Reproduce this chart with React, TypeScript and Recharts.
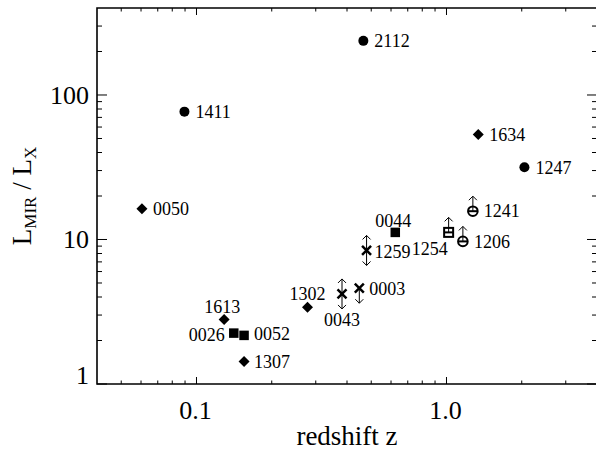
import { ScatterChart, Scatter, XAxis, YAxis, ReferenceArea } from 'recharts';

// MIR-to-X-ray luminosity ratio against redshift, one entry per source
const SOURCES = ['1411', '0050', '2112', '1634', '1247', '1241', '1206', '1254', '0044', '1259', '0003', '0043', '1302', '1613', '0026', '0052', '1307'];
const REDSHIFT = [0.0895, 0.0605, 0.465, 1.34, 2.05, 1.275, 1.163, 1.02, 0.624, 0.479, 0.448, 0.382, 0.278, 0.129, 0.141, 0.155, 0.155];
const MIR_X_RATIO = [76.7, 16.3, 237, 53.2, 31.6, 15.7, 9.7, 11.2, 11.2, 8.4, 4.6, 4.2, 3.4, 2.8, 2.25, 2.17, 1.43];
const MARKERS = ['dot', 'diamond', 'dot', 'diamond', 'dot', 'ring', 'ring', 'box', 'square', 'cross', 'cross', 'cross', 'diamond', 'diamond', 'square', 'square', 'diamond'];
const LIMITS = ['', '', '', '', '', 'lower', 'lower', 'lower', '', 'range', 'upper', 'range', '', '', '', '', ''];

const X_MAJOR = [0.1, 1];
const X_TICK_LABELS = ['0.1', '1.0'];
const X_MINOR = [0.05, 0.06, 0.07, 0.08, 0.09, 0.2, 0.3, 0.4, 0.5, 0.6, 0.7, 0.8, 0.9, 2, 3];
const Y_MAJOR = [1, 10, 100];
const Y_TICK_LABELS = ['1', '10', '100'];
const Y_MINOR = [2, 3, 4, 5, 6, 7, 8, 9, 20, 30, 40, 50, 60, 70, 80, 90, 200, 300];

const X_DOMAIN: [number, number] = [0.04, 4];
const Y_DOMAIN: [number, number] = [1, 400];

const data = SOURCES.map((name, i) => ({
  name,
  z: REDSHIFT[i],
  ratio: MIR_X_RATIO[i],
  marker: MARKERS[i],
  limit: LIMITS[i],
}));

// label offsets from the marker centre: [dx, dy, anchor]
const LABEL_AT: Record<string, [number, number, 'start' | 'middle' | 'end']> = {
  '1254': [-1, 16, 'end'],
  '0044': [-2, -12, 'middle'],
  '1259': [8, 1, 'start'],
  '0043': [0, 26, 'middle'],
  '1302': [0, -14, 'middle'],
  '1613': [-2, -13, 'middle'],
  '0026': [-9, 2, 'end'],
  '0052': [10, -2, 'start'],
  '1307': [10, 0, 'start'],
  '0003': [10, 0, 'start'],
};

const W = 600;
const H = 453;
const MARGIN = { top: 8, right: 3, bottom: 0, left: 0 };
const Y_AXIS_W = 97;
const X_AXIS_H = 69;
const PLOT = {
  left: MARGIN.left + Y_AXIS_W,
  right: W - MARGIN.right,
  top: MARGIN.top,
  bottom: H - MARGIN.bottom - X_AXIS_H,
};

const FONT = "'Liberation Serif', 'Times New Roman', Times, serif";
const INK = '#000';

function Arrow({ cx, cy, dir }: { cx: number; cy: number; dir: number }) {
  const tip = cy + dir * 15;
  return (
    <g stroke={INK} strokeWidth={1} fill="none">
      <line x1={cx} y1={cy} x2={cx} y2={tip} />
      <polyline points={`${cx - 4},${tip - dir * 4} ${cx},${tip} ${cx + 4},${tip - dir * 4}`} />
    </g>
  );
}

function SourceMark(props: any) {
  const { cx, cy, payload } = props;
  if (cx == null || cy == null) return null;
  const { marker, limit, name } = payload;
  let body = null;
  if (marker === 'dot') {
    body = <circle cx={cx} cy={cy} r={5} fill={INK} />;
  } else if (marker === 'diamond') {
    const d = 5.5;
    body = <polygon points={`${cx},${cy - d} ${cx + d},${cy} ${cx},${cy + d} ${cx - d},${cy}`} fill={INK} />;
  } else if (marker === 'square') {
    body = <rect x={cx - 4.75} y={cy - 4.75} width={9.5} height={9.5} fill={INK} />;
  } else if (marker === 'box') {
    body = (
      <g stroke={INK} strokeWidth={2} fill="#fff">
        <rect x={cx - 4.5} y={cy - 4.5} width={9} height={9} />
        <line x1={cx - 4.5} y1={cy} x2={cx + 4.5} y2={cy} />
      </g>
    );
  } else if (marker === 'ring') {
    body = (
      <g stroke={INK} strokeWidth={2} fill="#fff">
        <circle cx={cx} cy={cy} r={4.8} />
        <line x1={cx - 4.8} y1={cy} x2={cx + 4.8} y2={cy} />
      </g>
    );
  } else if (marker === 'cross') {
    const d = 4.5;
    body = (
      <g stroke={INK} strokeWidth={2.5}>
        <line x1={cx - d} y1={cy - d} x2={cx + d} y2={cy + d} />
        <line x1={cx - d} y1={cy + d} x2={cx + d} y2={cy - d} />
      </g>
    );
  }
  const [dx, dy, anchor] = LABEL_AT[name] ?? [11, 0, 'start'];
  return (
    <g>
      {body}
      {(limit === 'lower' || limit === 'range') && <Arrow cx={cx} cy={cy} dir={-1} />}
      {(limit === 'upper' || limit === 'range') && <Arrow cx={cx} cy={cy} dir={1} />}
      <text x={cx + dx} y={cy + dy} dy="0.35em" textAnchor={anchor} style={{ fontFamily: FONT }} fontSize={18} fill={INK}>
        {name}
      </text>
    </g>
  );
}

// ticks point inwards and are repeated on the opposite side of the frame
function XTick(props: any) {
  const { x, payload } = props;
  const idx = X_MAJOR.indexOf(payload.value);
  const len = idx >= 0 ? 7 : 3.5;
  return (
    <g>
      <line x1={x} y1={PLOT.bottom} x2={x} y2={PLOT.bottom - len} stroke={INK} strokeWidth={1} />
      <line x1={x} y1={PLOT.top} x2={x} y2={PLOT.top + len} stroke={INK} strokeWidth={1} />
      {idx >= 0 && (
        <text x={x - 1} y={PLOT.bottom + 35} textAnchor="middle" style={{ fontFamily: FONT }} fontSize={26} fill={INK}>
          {X_TICK_LABELS[idx]}
        </text>
      )}
    </g>
  );
}

function YTick(props: any) {
  const { y, payload } = props;
  const idx = Y_MAJOR.indexOf(payload.value);
  const len = idx >= 0 ? 10 : 5;
  const base = idx === 0 ? y : y + 9;
  return (
    <g>
      <line x1={PLOT.left} y1={y} x2={PLOT.left + len} y2={y} stroke={INK} strokeWidth={1} />
      <line x1={PLOT.right} y1={y} x2={PLOT.right - len} y2={y} stroke={INK} strokeWidth={1} />
      {idx >= 0 && (
        <text x={PLOT.left - 8} y={base} textAnchor="end" style={{ fontFamily: FONT }} fontSize={26} fill={INK}>
          {Y_TICK_LABELS[idx]}
        </text>
      )}
    </g>
  );
}

function XTitle(props: any) {
  const { viewBox } = props;
  return (
    <text x={viewBox.x + viewBox.width / 2} y={PLOT.bottom + 61} textAnchor="middle" style={{ fontFamily: FONT }} fontSize={27} fill={INK}>
      redshift z
    </text>
  );
}

function YTitle(props: any) {
  const { viewBox } = props;
  const cy = viewBox.y + viewBox.height / 2;
  const cx = 31;
  return (
    <text x={cx} y={cy} transform={`rotate(-90, ${cx}, ${cy})`} textAnchor="middle" style={{ fontFamily: FONT }} fontSize={27} fill={INK}>
      L<tspan fontSize={17} dy={5}>MIR</tspan>
      <tspan dy={-5}> / L</tspan>
      <tspan fontSize={17} dy={5}>X</tspan>
    </text>
  );
}

export default function App() {
  return (
    <div style={{ position: 'absolute', left: 0, top: 0, width: 596, height: 453, overflow: 'hidden', background: '#fff', fontFamily: FONT }}>
      <ScatterChart width={W} height={H} margin={MARGIN}>
        <XAxis
          type="number"
          dataKey="z"
          scale="log"
          domain={X_DOMAIN}
          allowDataOverflow
          ticks={[...X_MAJOR, ...X_MINOR]}
          interval={0}
          tick={<XTick />}
          tickLine={false}
          tickSize={0}
          tickMargin={0}
          axisLine={false}
          height={X_AXIS_H}
          label={<XTitle />}
        />
        <YAxis
          type="number"
          dataKey="ratio"
          scale="log"
          domain={Y_DOMAIN}
          allowDataOverflow
          ticks={[...Y_MAJOR, ...Y_MINOR]}
          interval={0}
          tick={<YTick />}
          tickLine={false}
          tickSize={0}
          tickMargin={0}
          axisLine={false}
          width={Y_AXIS_W}
          label={<YTitle />}
        />
        <ReferenceArea
          x1={X_DOMAIN[0]}
          x2={X_DOMAIN[1]}
          y1={Y_DOMAIN[0]}
          y2={Y_DOMAIN[1]}
          fill="none"
          fillOpacity={0}
          stroke={INK}
          strokeWidth={1.6}
          ifOverflow="visible"
        />
        <Scatter data={data} shape={<SourceMark />} isAnimationActive={false} />
      </ScatterChart>
    </div>
  );
}
